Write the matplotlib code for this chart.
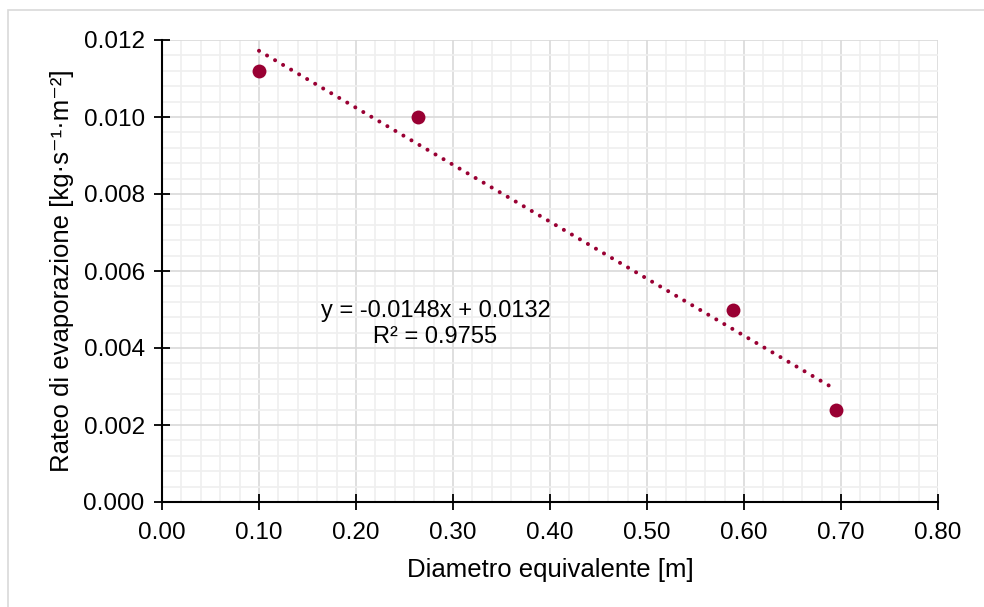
import matplotlib
matplotlib.use("Agg")
import matplotlib.pyplot as plt
from matplotlib.ticker import MultipleLocator, FormatStrFormatter
from matplotlib.patches import Rectangle
import numpy as np

plt.rcParams['font.family'] = ['Liberation Sans', 'DejaVu Sans']

# Data
diameter = [0.100, 0.264, 0.589, 0.695]
evap_rate = [0.0112, 0.0100, 0.0050, 0.0024]
slope = -0.0148
intercept = 0.0132
eq_text = "y = -0.0148x + 0.0132"
r2_text = "R² = 0.9755"
x_label = "Diametro equivalente [m]"
y_label = "Rateo di evaporazione [kg·s⁻¹·m⁻²]"

color = "#990033"

fig = plt.figure(figsize=(9.84, 6.07), dpi=100)
ax = fig.add_axes([162/984, 1 - 502/607, (938-162)/984, (502-40)/607])

ax.set_xlim(0, 0.8)
ax.set_ylim(0, 0.012)
ax.xaxis.set_major_locator(MultipleLocator(0.1))
ax.xaxis.set_minor_locator(MultipleLocator(0.02))
ax.yaxis.set_major_locator(MultipleLocator(0.002))
ax.yaxis.set_minor_locator(MultipleLocator(0.0004))
ax.xaxis.set_major_formatter(FormatStrFormatter('%.2f'))
ax.yaxis.set_major_formatter(FormatStrFormatter('%.3f'))

ax.grid(which='major', color='#d9d9d9', linewidth=1.2, zorder=0)
ax.grid(which='minor', color='#efefef', linewidth=1.2, zorder=0)
ax.set_axisbelow(True)

for s in ['top', 'right']:
    ax.spines[s].set_visible(False)
for s in ['left', 'bottom']:
    ax.spines[s].set_color('black')
    ax.spines[s].set_linewidth(1.5)

ax.tick_params(which='major', direction='inout', length=11, width=1.3,
               labelsize=17.5, colors='black')
ax.tick_params(axis='x', which='major', pad=9)
ax.tick_params(axis='y', which='major', pad=7)
ax.tick_params(which='minor', length=0)

# Trendline
xt = np.array([min(diameter), max(diameter)])
ax.plot(xt, slope * xt + intercept, linestyle=(0, (0.01, 2.3)), color=color,
        linewidth=2.9, dash_capstyle='round', zorder=3)

ax.plot(diameter, evap_rate, 'o', color=color, markersize=10, zorder=4,
        markeredgewidth=0)

ax.text(0.282, 0.00495, eq_text, ha='center', va='center', fontsize=17)
ax.text(0.282, 0.00428, r2_text, ha='center', va='center', fontsize=17)

ax.set_xlabel(x_label, fontsize=18.5, labelpad=10)
ax.set_ylabel(y_label, fontsize=18.5, labelpad=7)

fig.patches.append(Rectangle((8/984, -0.1), 1.2, 1.1 - 10/607, transform=fig.transFigure,
                             fill=False, edgecolor='#d9d9d9', linewidth=1.2))

fig.savefig("out.png", dpi=100)
